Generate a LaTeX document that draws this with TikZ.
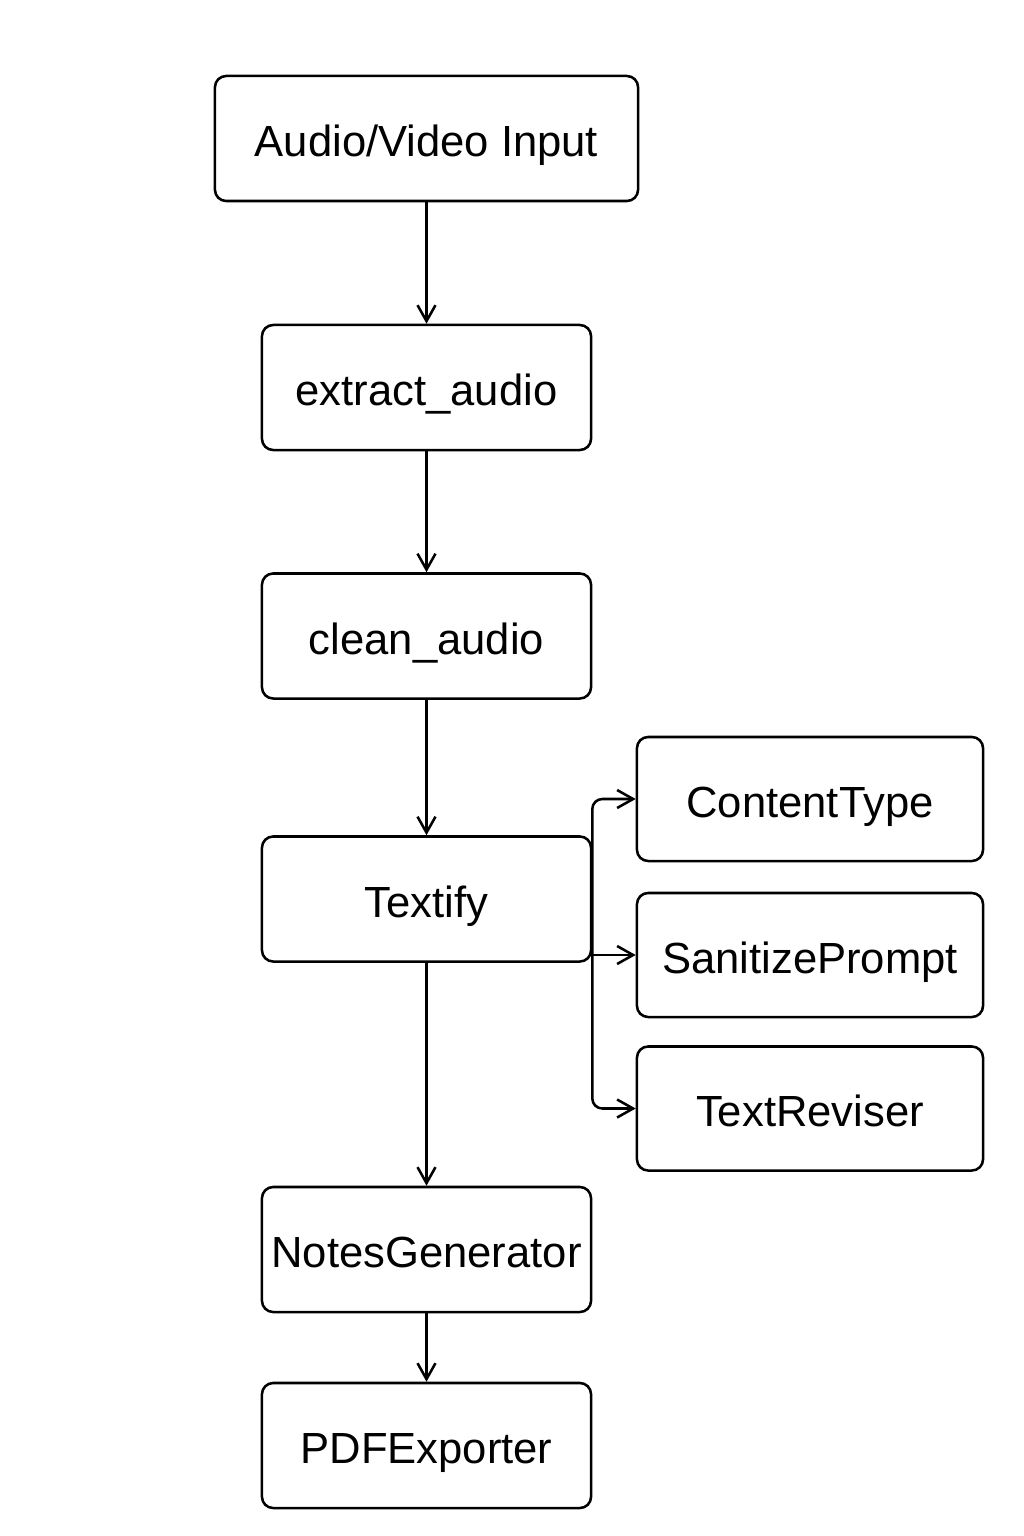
\documentclass[tikz,border=0pt]{standalone}
\usepackage{fontspec}
\setmainfont{Liberation Sans}
\usetikzlibrary{arrows.meta}
\begin{document}
\begin{tikzpicture}[x=0.025cm,y=-0.025cm,
    every node/.style={font=\fontsize{31}{36}\selectfont},
    stage/.style={draw, line width=1.8pt, rounded corners=0.28cm, minimum width=8.225cm, minimum height=3.125cm, inner sep=0pt, text height=25.8pt, text depth=0pt},
    wide/.style={stage, minimum width=10.575cm},
    side/.style={stage, minimum width=8.65cm, minimum height=3.1cm},
    flow/.style={line width=1.8pt, -{Straight Barb[length=0.4cm,width=0.45cm,line width=1.8pt]}}]
    \fill[white] (0,0) rectangle (1024,1536);
    \useasboundingbox (0,0) rectangle (1024,1536);
    \begin{scope}
      \node[wide] (input) at (426.5,138.5) {Audio/Video Input};
      \node[stage] (extract) at (426.5,387.5) {extract\_audio};
      \node[stage] (clean) at (426.5,636) {clean\_audio};
      \node[stage] (textify) at (426.5,899) {Textify};
      \node[stage] (notes) at (426.5,1249.5) {NotesGenerator};
      \node[stage] (pdf) at (426.5,1445.5) {PDFExporter};
      \draw[flow] (input) -- (extract);
      \draw[flow] (extract) -- (clean);
      \draw[flow] (clean) -- (textify);
      \draw[flow] (textify) -- (notes);
      \draw[flow] (notes) -- (pdf);
    \end{scope}
    \begin{scope}
      \node[side] (ctype) at (810,799) {ContentType};
      \node[side] (sanitize) at (810,955) {SanitizePrompt};
      \node[side] (reviser) at (810,1108.5) {TextReviser};
      \draw[flow, rounded corners=0.25cm] (textify.east) |- (ctype.west);
      \draw[flow] (textify.east |- sanitize.west) -- (sanitize.west);
      \draw[flow, rounded corners=0.25cm] (textify.east) |- (reviser.west);
    \end{scope}
  \end{tikzpicture}
\end{document}
